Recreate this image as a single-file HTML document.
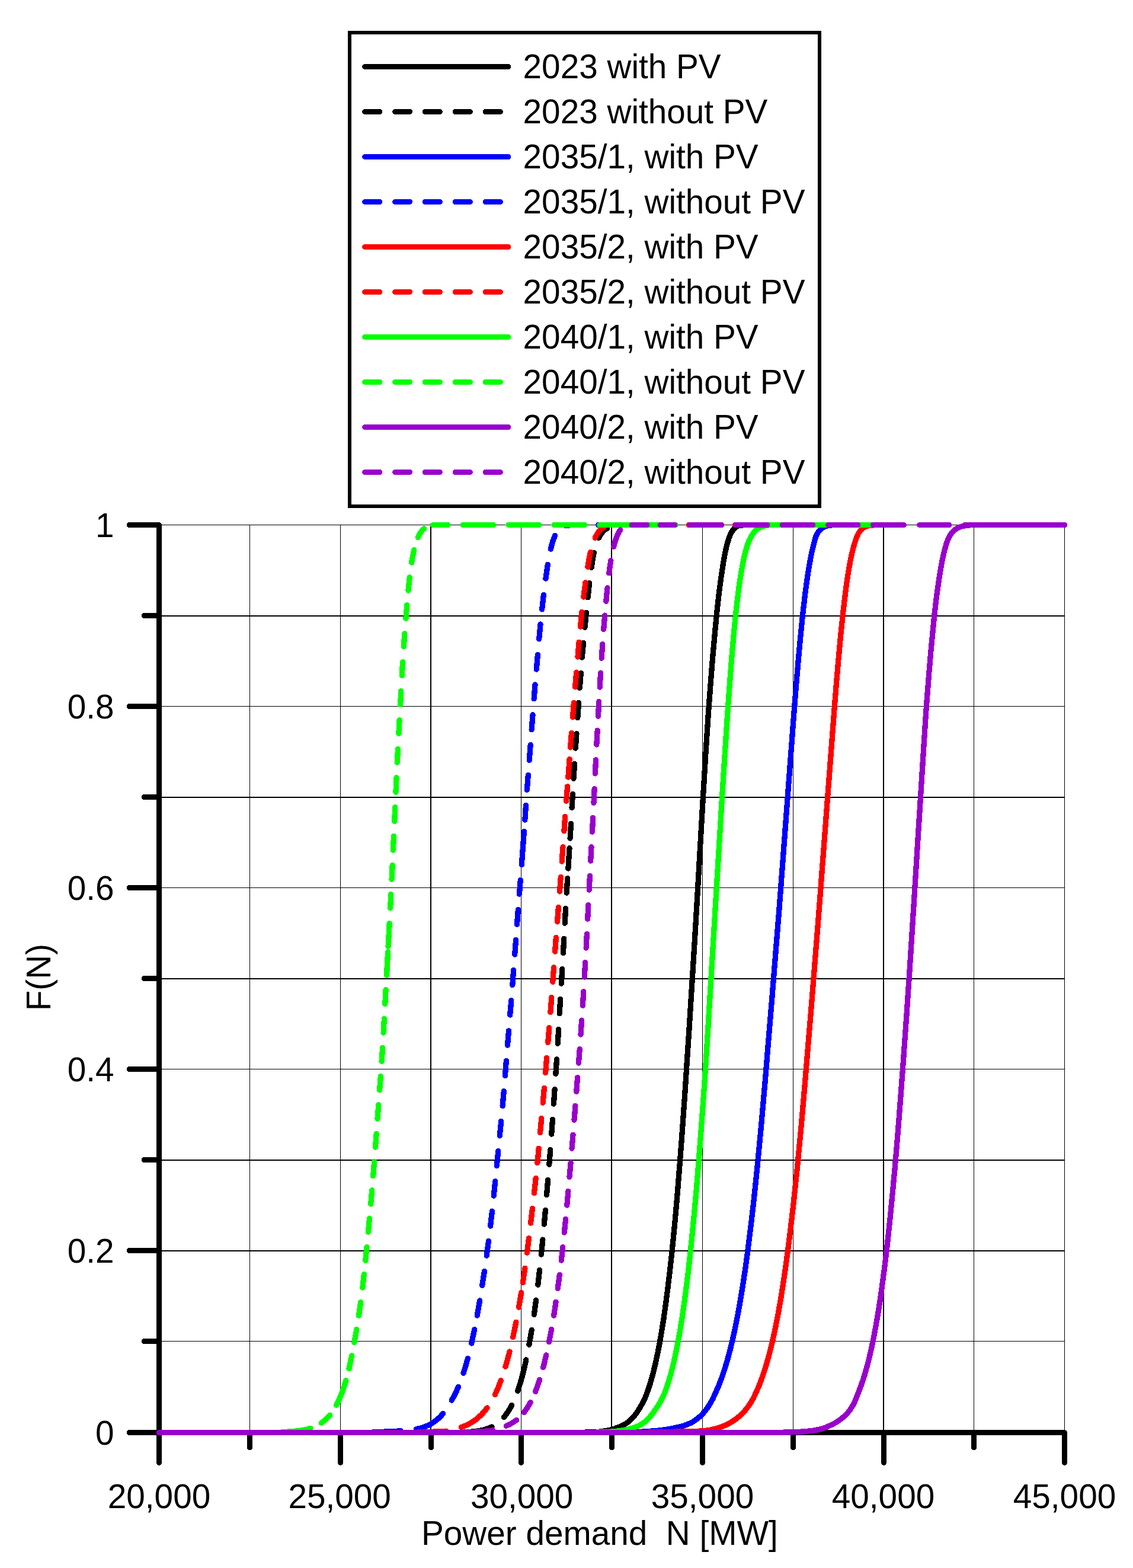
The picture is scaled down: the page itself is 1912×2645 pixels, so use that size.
<!DOCTYPE html>
<html lang="en"><head><meta charset="utf-8"><title>Cumulative distribution of power demand</title>
<style>html,body{margin:0;padding:0;background:#fff}body{width:1912px;height:2645px;overflow:hidden}svg{display:block}text{font-family:"Liberation Sans",Arial,Helvetica,sans-serif;font-size:56.7px;fill:#000}</style>
</head><body>
<svg width="1912" height="2645" viewBox="0 0 1912 2645" role="img" aria-label="Cumulative distribution F(N) of power demand N">
<rect x="0" y="0" width="1912" height="2645" fill="#ffffff"/>
<g id="grid" fill="#000" shape-rendering="crispEdges">
<rect x="421" y="885" width="1" height="1532"/>
<rect x="574" y="885" width="1" height="1532"/>
<rect x="726" y="885" width="2" height="1532"/>
<rect x="879" y="885" width="1" height="1532"/>
<rect x="1031" y="885" width="2" height="1532"/>
<rect x="1185" y="885" width="1" height="1532"/>
<rect x="1338" y="885" width="1" height="1532"/>
<rect x="1490" y="885" width="2" height="1532"/>
<rect x="1643" y="885" width="1" height="1532"/>
<rect x="1796" y="885" width="1" height="1532"/>
<rect x="268" y="885" width="1529" height="1"/>
<rect x="268" y="1038" width="1529" height="2"/>
<rect x="268" y="1191" width="1529" height="1"/>
<rect x="268" y="1344" width="1529" height="2"/>
<rect x="268" y="1497" width="1529" height="1"/>
<rect x="268" y="1650" width="1529" height="2"/>
<rect x="268" y="1803" width="1529" height="1"/>
<rect x="268" y="1956" width="1529" height="2"/>
<rect x="268" y="2109" width="1529" height="2"/>
<rect x="268" y="2262" width="1529" height="1"/>
</g>
<g id="axes" stroke="#000" stroke-width="9" fill="none" stroke-linecap="round" shape-rendering="crispEdges">
<path d="M268.5 885.5 V2416.5"/>
<path d="M268.5 2416.5 H1796.5"/>
<path d="M218.0 885.5 H268.5"/>
<path d="M243.3 1038.5 H268.5"/>
<path d="M218.0 1191.5 H268.5"/>
<path d="M243.3 1344.5 H268.5"/>
<path d="M218.0 1497.5 H268.5"/>
<path d="M243.3 1650.5 H268.5"/>
<path d="M218.0 1803.5 H268.5"/>
<path d="M243.3 1956.5 H268.5"/>
<path d="M218.0 2109.5 H268.5"/>
<path d="M243.3 2262.5 H268.5"/>
<path d="M218.0 2416.5 H268.5"/>
<path d="M268.5 2416.5 V2467.3"/>
<path d="M421.5 2416.5 V2441.7"/>
<path d="M574.5 2416.5 V2467.3"/>
<path d="M727.5 2416.5 V2441.7"/>
<path d="M879.5 2416.5 V2467.3"/>
<path d="M1032.5 2416.5 V2441.7"/>
<path d="M1185.5 2416.5 V2467.3"/>
<path d="M1338.5 2416.5 V2441.7"/>
<path d="M1491.5 2416.5 V2467.3"/>
<path d="M1643.5 2416.5 V2441.7"/>
<path d="M1796.5 2416.5 V2467.3"/>
</g>
<g id="curves" fill="none" stroke-width="9.3" stroke-linecap="round" stroke-linejoin="round" shape-rendering="crispEdges">
<path id="c_black_solid" d="M268.6 2416.5L958 2416.5L981.5 2416.3L998 2415.9L1009.7 2415.3L1016.6 2414.4L1023.3 2413.3L1029.4 2412.1L1034.4 2410.8L1038.9 2409.3L1044.8 2407.2L1048.8 2405.5L1052.1 2403.8L1055.7 2401.8L1058.9 2399.6L1062 2397.1L1065.1 2394.3L1068 2391.2L1070.9 2387.8L1073.2 2384.8L1075.6 2381.4L1080.9 2372.9L1086.1 2363.5L1087.7 2360.3L1089.1 2356.9L1093.7 2344.5L1097.9 2331.6L1101.9 2317.3L1105.8 2301.4L1109.5 2284.4L1113.1 2266L1116.5 2246.2L1120 2224.3L1123.3 2200.8L1126.6 2175.6L1129.9 2148.3L1133.2 2118.8L1136 2091.5L1138.8 2062.7L1141.6 2031.8L1144.3 1999.5L1149.8 1929.2L1155.5 1849.5L1163.8 1723L1172.7 1580.2L1176.7 1513.6L1185.9 1353.8L1190.8 1273.3L1195.3 1204.5L1199.7 1145.8L1203.1 1103.9L1206.7 1064.1L1210.3 1027.7L1213.6 998.6L1217.1 972.4L1220.8 948.3L1222.6 938.2L1224.3 929.6L1225.9 922.4L1227.6 916L1229.8 908.8L1232.2 902.5L1234.7 897.5L1236 895.3L1237.3 893.4L1238.7 891.8L1240.2 890.4L1241.7 889.2L1243.2 888.2L1244.9 887.4L1246.9 886.7L1250.8 886.1L1255.4 885.7L1261.8 885.5L1491.1 885.5" stroke="#000000"/>
<path id="c_black_dashed" d="M784.6 2415.9L792.4 2415.4L799.2 2414.8L805.3 2414.1L811 2413.1L816.3 2411.9L821.1 2410.5L825.6 2408.9L830 2407M850.3 2390.7L853.8 2386.4L857.2 2381.4L860.5 2376.1L863.6 2370.3M873.7 2346.4L877.4 2335L881 2322.5L884.5 2308.7L887.9 2293.9M892.9 2268.4L897.3 2243.4M901.3 2217.7L904.6 2193.1M907.8 2167.3L910.6 2142.3M913.4 2116.2L915.9 2091.1M918.3 2065.1L920.4 2041.3M922.6 2015.4L924.6 1990.3M926.8 1964.2L928.8 1939.3M930.7 1913.2L932.5 1888.6M934.4 1862.1L936.1 1837.6M937.9 1811.4L939.5 1786.9M941.2 1760.3L942.7 1736.2M944.2 1709.8L945.7 1685.3M947.3 1659.1L948.8 1634.6M950.4 1607.8L951.8 1583.2M953.2 1557.3L954.6 1532.5M956.2 1506.2L957.7 1481.6M958.9 1465.1L961 1430.7M962.1 1414.2L963.5 1389.4M965.1 1362.6L966.4 1339.5M968 1313.3L969.6 1288.4M971.3 1262.2L973 1237.5M974.8 1210.8L976.6 1185.4M978.4 1160.3L980.3 1135.2M982.3 1109L984.5 1084.3M987 1058.2L989.5 1033.2M992.1 1007.9L994.7 983.4M998.1 957.3L1000.4 942L1002.3 932.2M1010.4 907.4L1011.9 904.5L1013.5 902L1015.1 899.7L1016.7 897.6L1018.5 895.8L1020.4 894L1022.5 892.5L1024.6 891.3" stroke="#000000"/>
<path id="c_blue_solid" d="M268.6 2416.5L1000 2416.5L1046 2416.2L1062.1 2415.9L1075.6 2415.5L1088 2414.9L1099.3 2414.1L1109.6 2413.2L1119.1 2412.1L1127.2 2410.9L1134.9 2409.5L1147.3 2406.7L1153.5 2405.1L1159.2 2403.1L1164.4 2400.9L1168.5 2398.8L1173.1 2395.8L1177.7 2392.4L1182.2 2388.6L1185.9 2384.8L1189.6 2380.5L1192.5 2376.7L1195.4 2372.5L1198.7 2367.2L1201.5 2362.1L1203.6 2358L1208.8 2346.6L1212.9 2337.2L1217.9 2324.2L1222.8 2309.8L1227.5 2294.3L1232.1 2277.2L1236.6 2258.5L1240.9 2238.8L1245.1 2217.7L1249.2 2194.7L1253.2 2170.3L1257.2 2144.1L1261.1 2115.9L1264.9 2085.9L1268.1 2059.4L1271.4 2031.1L1274.6 2001L1277.8 1969.9L1284.3 1902.1L1290.9 1827.2L1301.7 1696.7L1314.9 1534L1340.2 1198.1L1344.1 1149.7L1347.9 1105.8L1350.6 1076.6L1353.2 1050.4L1355.9 1025.5L1358.6 1003L1361.1 983.5L1363.6 966.6L1366.1 951.4L1368.7 937.4L1370.7 928L1372.8 919.5L1376.1 907.2L1377 904.6L1377.9 902.4L1379.1 900.2L1380.7 897.6L1382.4 895.5L1384.1 893.6L1385.8 892L1387.7 890.6L1389.6 889.4L1391.7 888.4L1395 887.3L1398.8 886.4L1403.3 885.9L1408.9 885.6L1414.1 885.5L1491.1 885.5" stroke="#0000ff"/>
<path id="c_blue_dashed" d="M629.2 2415.9L659.8 2414.7L676.5 2413.8M702.5 2410.7L709.8 2409L716.2 2407L722.2 2404.6L727.7 2401.7L733 2398.2L738.1 2394.3L743 2389.7L747.8 2384.5M762.2 2362.2L765.4 2356.4L768.3 2350.7L771.1 2344.9L773.6 2339.3M782.1 2316.2L785.7 2304.5L789.4 2291.4M795.7 2266L800.7 2242.6M805.2 2219.2L809.6 2194M813.7 2168.3L817.5 2144.2M821.2 2118.1L824.5 2093.5M827.6 2068.1L830.5 2043M833.2 2017.2L835.7 1992.7M838.3 1966.6L840.8 1941.5M843.3 1915.9L845.7 1891.4M848.1 1865.7L850.3 1840.6M852.4 1814.5L854.4 1789.4M856.5 1763.2L858.5 1738.7M860.7 1712L862.8 1687.5M864.8 1661.6L866.7 1636.3M868.7 1610.1L870.6 1585.6M872.5 1559.3L874.4 1534.5M876.4 1508.2L878.3 1484.7M880.3 1458.6L884.4 1402.5M885.8 1383L887.5 1358.4M889.4 1332.3L891.3 1307.4M893.2 1282.4L895.2 1256.3M897.1 1230.8L899 1205.7M901.1 1178.9L903 1155M905.3 1129.1L907.4 1104.2M909.7 1077.9L912 1053M914.6 1027.9L917.4 1003.3M920.9 976.1L924.3 952.2M929.3 926.3L931 919.5L932.8 913.3L934.7 908L936.7 903.2M954.5 886.7L958.5 886.1L963.7 885.7L971.1 885.5L980.7 885.5M1009.7 885.5L1060.7 885.5M1086.7 885.5L1137.7 885.5" stroke="#0000ff"/>
<path id="c_red_solid" d="M268.6 2416.5L1054.4 2416.5L1080.4 2416.3L1099.7 2416.1L1123.1 2415.4L1154.2 2414.9L1175.8 2414.3L1183.6 2414L1189 2413.5L1193.7 2412.9L1198.5 2412.1L1206 2410.4L1211.9 2408.7L1217.8 2406.7L1223.3 2404.5L1228.4 2402.1L1233.6 2399.2L1238.5 2396.1L1243.1 2392.8L1247.4 2389.3L1251.8 2385.2L1255.6 2381.4L1259 2377.4L1262.1 2373.3L1265.2 2368.8L1268.1 2364.2L1270.9 2359.4L1272.5 2356.1L1276.8 2346.9L1281.1 2337.1L1286.1 2323.8L1291 2309.2L1295.7 2293.3L1300.4 2275.8L1304.8 2257.2L1309.1 2237L1313.3 2215.3L1317.4 2192.1L1321.4 2166.9L1325.4 2139.8L1329.3 2111.3L1333.2 2080.2L1336.3 2054L1339.5 2026.1L1345.8 1965.8L1352.1 1899.5L1358.6 1825.3L1370.1 1686.7L1380.8 1553L1407.6 1201.3L1411.2 1155.7L1414.7 1115L1418.8 1070.7L1422.8 1032.1L1426.9 997.9L1428.9 982.9L1430.9 969.7L1433.1 956.4L1435.4 944.1L1437.8 933L1440.2 923.3L1443.2 913.3L1445.8 905.9L1447.9 901.2L1449.2 898.9L1450.6 896.8L1452 895L1453.4 893.4L1454.9 892L1456.5 890.7L1458.2 889.6L1459.9 888.7L1461.7 888L1463.7 887.3L1468 886.4L1473.4 885.9L1480 885.6L1491.1 885.5" stroke="#ff0000"/>
<path id="c_red_dashed" d="M705.2 2415.9L736.4 2415L745.6 2414.6L753 2414.1M778.4 2407.7L785.1 2405L791.3 2402.1L797.1 2398.7L802.6 2394.9L807.8 2390.6L812.9 2385.8L817.6 2380.6L822.1 2374.8M835.3 2352.6L837.9 2347L840.5 2341.1L845.4 2328.7M853 2305.5L856.6 2292.8L860 2280M865.7 2255.7L870.9 2230.2M875.5 2205.2L879.7 2180.4M882.3 2163.8L885.9 2139.3M889.4 2113.3L892.5 2088.7M895.6 2063.3L898.5 2038.2M901.5 2012.4L904.2 1987.4M906.9 1961.7L909.2 1937.2M911.6 1910.5L913.8 1886.4M916.2 1860.3L918.4 1835.4M920.6 1809.5L922.6 1784.6M924.7 1758.5L926.8 1733.6M928.9 1707.5L930.8 1682.3M932.8 1656.2L934.6 1631.9M936.6 1605.1L938.4 1581.6M940.5 1554.9L942.4 1530.4M944.5 1503.9L946.3 1479.3M948.2 1453.2L950 1428.5M951.9 1401.9L953.6 1377.6M955.6 1351.3L957.6 1326.7M958.9 1311L961.1 1280.5M962.6 1260.9L964.5 1236.2M966.5 1209.9L968.4 1185.4M970.6 1159L972.7 1134.1M975 1108L977.1 1083.3M979.5 1057.2L981.9 1032.4M984.8 1007.1L988 982.5M991.9 956.2L994.5 940.8L996.5 931.4M1004.3 907.3L1006 903.9L1007.6 900.9L1009.4 898.2L1011.2 895.9L1013.1 893.8L1015.2 891.9L1017.3 890.4L1019.6 889.1M1085.1 885.5L1136.7 885.5M1162.1 885.5L1213.7 885.5M1240.1 885.5L1291.7 885.5" stroke="#ff0000"/>
<path id="c_green_solid" d="M268.6 2416.5L975.6 2416.5L999.6 2416.3L1016.5 2415.9L1025.6 2415.5L1034.3 2414.8L1042 2414.1L1049 2413.1L1055.3 2412L1061.1 2410.7L1066 2409.3L1072.9 2407.1L1076.8 2405.6L1080.2 2403.9L1084.1 2401.5L1088 2398.7L1090.4 2396.7L1093 2394.2L1096.8 2390L1099.9 2386.2L1104.3 2380.2L1109.3 2372.8L1112.2 2368.2L1116.5 2360.7L1120.5 2352.3L1124.5 2341.9L1128.5 2329.8L1132.4 2316.5L1136.1 2301.8L1140 2284.7L1143.7 2266L1147.3 2246.2L1150.9 2224.3L1154.3 2200.8L1157.7 2175.1L1161.2 2147.2L1164.5 2117.6L1167.4 2089.6L1170.3 2060L1173.2 2029L1176.1 1996.4L1181.7 1925.8L1187.5 1846.6L1191.2 1792.3L1194.8 1734.8L1214.7 1407.6L1220.4 1314.9L1227.9 1201.3L1233 1132.1L1236 1094.9L1239 1061.6L1242 1032.1L1244.9 1007L1248 983.5L1251.3 962.6L1254.5 945.8L1256.1 938.2L1257.8 931.3L1260.8 920.9L1262.5 916L1263.9 912.6L1265.5 909.1L1267.3 905.7L1269.3 902.4L1271.4 899.2L1273.5 896.6L1275.5 894.5L1277.7 892.6L1279.9 891L1282.3 889.6L1284.8 888.5L1287.6 887.6L1290.6 886.8L1294 886.2L1297.4 885.9L1307.1 885.5L1491.1 885.5" stroke="#00ff00"/>
<path id="c_green_dashed" d="M476.4 2415.7L491.4 2414.8L497.9 2414.2L503.9 2413.5L509.4 2412.7L514.6 2411.8L519.4 2410.6L523.9 2409.4M542.4 2400.2L546.3 2397.3L549.9 2394.2L553.3 2390.8L556.7 2387.1M567.7 2370.2L572.1 2361.2L576.3 2351.3L580.2 2340.4L583.9 2328.5M589 2308.6L591.2 2298.4L593.7 2286.7M597.9 2264.5L601.8 2242.4M605.5 2219.3L608.7 2196.7M611.8 2172.1L614.4 2149.5M616.8 2126.2L619 2103.5M621.4 2078.2L623.5 2055.1M625.7 2031L627.8 2007.7M629.7 1983.8L631.6 1959.3M633.5 1935.1L635.2 1912.4M637 1887.3L638.8 1863.5M640.6 1839L642.4 1815.5M644.1 1790.5L645.6 1767.6M647.1 1742L648.4 1718.5M649.8 1693.3L651.1 1669.5M652.5 1645.2L654.6 1605.8M655.1 1596.4L657.2 1557.5M658.6 1531.9L659.8 1508.4M661.1 1483.2L662.2 1459.4M663.4 1434.1L664.5 1410.5M665.7 1385.3L666.8 1361.5M668 1336.2L669.1 1311.8M670.3 1286.2L671.5 1263.2M672.9 1237.3L674.1 1214.5M675.6 1188.4L676.8 1165.6M678.3 1139.6L679.6 1116.7M681.3 1090.7L682.9 1068.6M684.9 1043.3L686.8 1020.5M689 996L691.3 973.8M694.6 949L696.4 938.5L698.8 927.6M705.3 906.6L707.6 901.7L710 897.8L712.7 894.6L715.7 891.9M730.4 885.8L736.6 885.5L755.8 885.5M781.2 885.5L832.6 885.5M858 885.5L909.6 885.5M935 885.5L986.4 885.5M1011.8 885.5L1063.4 885.5M1088.8 885.5L1140.2 885.5M1165.6 885.5L1217.2 885.5M1242.6 885.5L1294 885.5M1319.4 885.5L1371 885.5M1396.4 885.5L1447.8 885.5M1473.2 885.5L1491 885.5" stroke="#00ff00"/>
<path id="c_purple_solid" d="M268.6 2416.5L1286.8 2416.5L1312.8 2416.3L1331.4 2416L1350.8 2415.2L1358.4 2414.7L1365.1 2414L1371.7 2413.2L1377.7 2412.2L1383.3 2411L1388.2 2409.6L1393.3 2407.9L1398.5 2405.7L1405.1 2402.6L1410.2 2399.8L1415.1 2396.7L1419.5 2393.5L1423.3 2390.3L1427.2 2386.7L1430 2383.8L1432.4 2380.9L1434.6 2378L1436.9 2374.5L1439.1 2370.9L1440.9 2367.7L1442.4 2364.4L1444.5 2359.4L1452 2340.2L1456.7 2326.9L1459.2 2318.7L1461.7 2310.3L1464.2 2301.1L1466.6 2291.8L1470.7 2274L1474.7 2254.6L1478.6 2233.7L1482.4 2211.2L1486.1 2187.1L1489.7 2161L1493.4 2132.8L1496.9 2103L1500.2 2073.2L1503.4 2041.6L1506.6 2008.5L1509.9 1973L1513.2 1935.2L1516.4 1895.9L1523 1809.4L1529.8 1714.3L1535.2 1634.8L1542.5 1519.6L1554.7 1325.4L1562 1211L1564.4 1178.2L1567.8 1135L1571 1097.6L1574.2 1064.1L1577.2 1034.3L1580.2 1008.9L1583.4 985.2L1586.7 964.1L1589.9 946.2L1591.6 938.2L1593.3 931L1596.1 920.6L1597.5 916L1598.9 912.4L1600.3 908.8L1601.9 905.7L1603.7 902.5L1605.4 899.9L1607.2 897.7L1609.3 895.6L1611.8 893.5L1614.3 891.8L1616.7 890.4L1619.4 889.2L1622.2 888.2L1625.3 887.4L1631.2 886.4L1634.3 886L1638.9 885.7L1645.1 885.5L1796.7 885.5" stroke="#9900cc"/>
<path id="c_purple_dashed" d="M783.6 2415.8L802.2 2415.2L812.8 2414.6L822.9 2413.9L831.9 2412.8M854.3 2405.3L859.2 2403.1L863.6 2400.7L867.9 2398L871.7 2395.2M884.2 2382.5L887.1 2378.7L889.8 2374.7L892.5 2370.3L895.2 2365.6M903.6 2347.3L907.2 2337.7L910.7 2327.3M916.7 2306.7L919.1 2297L921.8 2285.8M926.6 2263.5L930.7 2242.3M934.6 2219.2L938.1 2196.2M941.3 2173.3L944.3 2150.3M947.2 2126.2L949.8 2103.6M952.3 2079.1L954.6 2056.4M956.8 2033.1L958.9 2009.4M961 1985.5L963.1 1961.4M965.1 1937.3L967 1914.2M969 1889.5L970.9 1865.3M972.8 1841.4L974.6 1817.7M976.5 1793.1L978.3 1769.6M980 1745.1L981.7 1721.1M983.3 1696.2L984.8 1672.6M986.3 1648.1L987.7 1623.3M989.1 1599L990.4 1575.4M991.7 1550.2L992.9 1526.5M994.2 1501.1L995.4 1477.5M996.7 1452.2L998 1428.6M999.4 1403.2L1000.7 1379.3M1002 1354.5L1003.2 1330.5M1004.4 1305L1005.5 1281.8M1006.8 1256L1008.2 1232.1M1009.5 1208.1L1010.8 1183.3M1012.2 1159.2L1013.6 1135M1015.2 1110.3L1016.8 1086.5M1018.7 1061.8L1020.7 1038.1M1022.8 1014.2L1025 991.5M1027.8 966.8L1029.3 955.7L1030.9 945.5M1035.7 922.1L1038.2 912.9L1040.9 905.1L1042.3 901.8L1043.6 898.9L1045.1 896.3L1046.7 894M1066.6 885.6L1091.6 885.5M1114.6 885.5L1138.8 885.5M1164.2 885.5L1217.4 885.5M1241.4 885.5L1294.6 885.5M1320.2 885.5L1371.4 885.5M1397.8 885.5L1447.6 885.5M1473.6 885.5L1525.2 885.5M1551.8 885.5L1602 885.5M1628.6 885.5L1679.6 885.5" stroke="#9900cc"/>
</g>
<g id="ylabels" text-anchor="end">
<text x="192.5" y="2436.5">0</text>
<text x="192.5" y="2129.5">0.2</text>
<text x="192.5" y="1823.5">0.4</text>
<text x="192.5" y="1517.5">0.6</text>
<text x="192.5" y="1211.5">0.8</text>
<text x="192.5" y="905.5">1</text>
</g>
<g id="xlabels" text-anchor="middle">
<text x="268.5" y="2543.5">20,000</text>
<text x="573.2" y="2543.5">25,000</text>
<text x="880.7" y="2543.5">30,000</text>
<text x="1185.5" y="2543.5">35,000</text>
<text x="1490.5" y="2543.5">40,000</text>
<text x="1796.5" y="2543.5">45,000</text>
</g>
<text id="xtitle" x="711" y="2605.6" xml:space="preserve" style="white-space:pre">Power demand  N [MW]</text>
<text id="ytitle" transform="translate(85.2 1648.6) rotate(-90)" text-anchor="middle">F(N)</text>
<g id="legend">
<rect x="590" y="55" width="793" height="799" fill="#fff" stroke="#000" stroke-width="6" shape-rendering="crispEdges"/>
<path d="M615.6 112.5 H857.6" stroke="#000000" stroke-width="9" stroke-linecap="round" fill="none" shape-rendering="crispEdges"/>
<text x="882.6" y="131.9">2023 with PV</text>
<path d="M615.6 188.5 H850" stroke="#000000" stroke-width="9" stroke-linecap="round" stroke-dasharray="25 25.93" fill="none" shape-rendering="crispEdges"/>
<text x="882.6" y="207.9">2023 without PV</text>
<path d="M615.6 264.5 H857.6" stroke="#0000ff" stroke-width="9" stroke-linecap="round" fill="none" shape-rendering="crispEdges"/>
<text x="882.6" y="283.9">2035/1, with PV</text>
<path d="M615.6 340.5 H850" stroke="#0000ff" stroke-width="9" stroke-linecap="round" stroke-dasharray="25 25.93" fill="none" shape-rendering="crispEdges"/>
<text x="882.6" y="359.9">2035/1, without PV</text>
<path d="M615.6 416.5 H857.6" stroke="#ff0000" stroke-width="9" stroke-linecap="round" fill="none" shape-rendering="crispEdges"/>
<text x="882.6" y="435.9">2035/2, with PV</text>
<path d="M615.6 492.5 H850" stroke="#ff0000" stroke-width="9" stroke-linecap="round" stroke-dasharray="25 25.93" fill="none" shape-rendering="crispEdges"/>
<text x="882.6" y="511.9">2035/2, without PV</text>
<path d="M615.6 568.5 H857.6" stroke="#00ff00" stroke-width="9" stroke-linecap="round" fill="none" shape-rendering="crispEdges"/>
<text x="882.6" y="587.9">2040/1, with PV</text>
<path d="M615.6 644.5 H850" stroke="#00ff00" stroke-width="9" stroke-linecap="round" stroke-dasharray="25 25.93" fill="none" shape-rendering="crispEdges"/>
<text x="882.6" y="663.9">2040/1, without PV</text>
<path d="M615.6 720.5 H857.6" stroke="#9900cc" stroke-width="9" stroke-linecap="round" fill="none" shape-rendering="crispEdges"/>
<text x="882.6" y="739.9">2040/2, with PV</text>
<path d="M615.6 796.5 H850" stroke="#9900cc" stroke-width="9" stroke-linecap="round" stroke-dasharray="25 25.93" fill="none" shape-rendering="crispEdges"/>
<text x="882.6" y="815.9">2040/2, without PV</text>
</g>
</svg>
</body></html>
